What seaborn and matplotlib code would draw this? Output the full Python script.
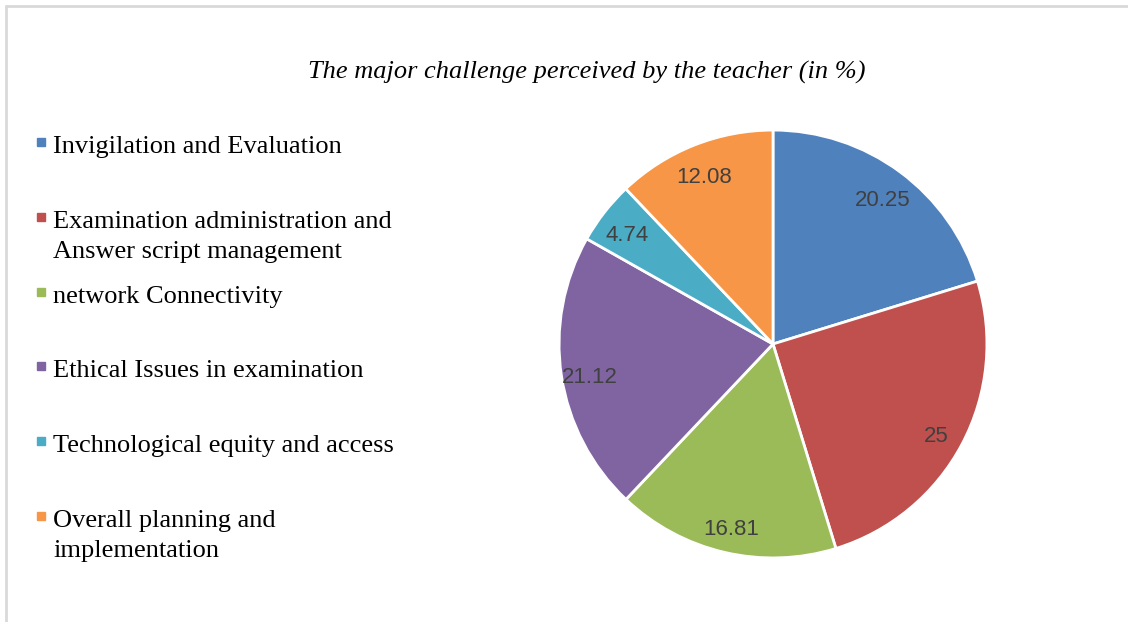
import matplotlib
matplotlib.use("Agg")
import numpy as np
import matplotlib.pyplot as plt
import seaborn as sns
from matplotlib.lines import Line2D
from matplotlib.patches import Rectangle

# data
categories = [
    "Invigilation and Evaluation",
    "Examination administration and\nAnswer script management",
    "network Connectivity",
    "Ethical Issues in examination",
    "Technological equity and access",
    "Overall planning and\nimplementation",
]
values = [20.25, 25, 16.81, 21.12, 4.74, 12.08]
value_labels = ["20.25", "25", "16.81", "21.12", "4.74", "12.08"]
colors = ["#4F81BD", "#C0504D", "#9BBB59", "#8064A2", "#4BACC6", "#F79646"]

sns.set_theme(style="white")
plt.rcParams["font.family"] = ["Liberation Serif", "DejaVu Serif"]

W, H = 1128, 622
fig = plt.figure(figsize=(W / 100, H / 100), dpi=100)
fig.patch.set_facecolor("white")

# light gray chart frame (top and left edges)
fig.add_artist(Line2D([6 / W, 6 / W], [0, 1 - 6 / H], color="#D9D9D9", lw=2))
fig.add_artist(Line2D([6 / W, 1], [1 - 6 / H, 1 - 6 / H], color="#D9D9D9", lw=2))

# pie
cx, cy, r = 773, 344, 215
ax = fig.add_axes([(cx - r) / W, (H - cy - r) / H, 2 * r / W, 2 * r / H])
pal = sns.color_palette(colors)
wedges, _ = ax.pie(values, colors=pal, startangle=90, counterclock=False,
                   wedgeprops=dict(edgecolor="white", linewidth=2))
for w, lab in zip(wedges, value_labels):
    ang = np.deg2rad((w.theta1 + w.theta2) / 2)
    ax.text(0.865 * np.cos(ang), 0.865 * np.sin(ang) - 0.015, lab, ha="center",
            va="center_baseline", fontsize=16, color="#404040",
            family=["Liberation Sans", "DejaVu Sans"])
ax.set_xlim(-1.005, 1.005)
ax.set_ylim(-1.005, 1.005)
ax.axis("off")

# title
fig.text(587 / W, 1 - 72 / H, "The major challenge perceived by the teacher (in %)",
         ha="center", va="center", fontsize=19, style="italic", color="#000000")

# legend, drawn to match the Excel layout
for i, (lab, c) in enumerate(zip(categories, colors)):
    base = 153 + 74.8 * i
    fig.add_artist(Rectangle((37 / W, 1 - (base - 7) / H), 8 / W, 8 / H,
                             color=c, transform=fig.transFigure))
    for j, line in enumerate(lab.split("\n")):
        fig.text(53 / W, 1 - (base + 30 * j) / H, line, ha="left", va="baseline",
                 fontsize=19, color="#000000")

fig.savefig("out.png", dpi=100)
